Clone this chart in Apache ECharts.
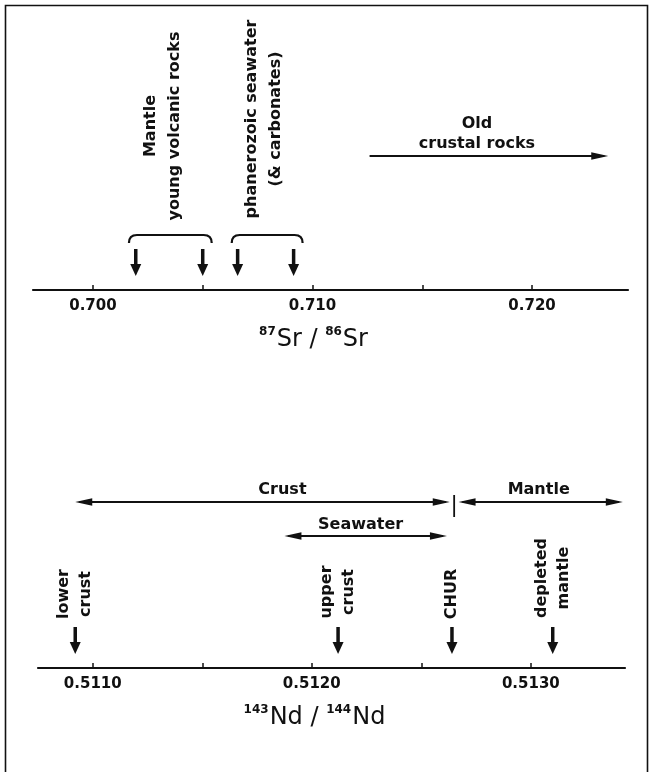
<!DOCTYPE html>
<html>
<head>
<meta charset="utf-8">
<script src="https://cdn.jsdelivr.net/npm/echarts@6/dist/echarts.min.js"></script>
<style>
html,body{margin:0;padding:0;background:#fff;}
#chart{width:651px;height:772px;}
</style>
</head>
<body>
<div id="chart"></div>
<script>
// ---------------- data ----------------
// 87Sr/86Sr panel
const srAxisRange = [0.69727, 0.72437];
const srTicks = [0.700, 0.705, 0.710, 0.715, 0.720];
const srTickLabels = [0.700, 0.710, 0.720];
const srArrowValues = [0.70195, 0.70500, 0.70659, 0.70914];
const srBraceRanges = [[0.70164, 0.70541], [0.70632, 0.70955]];
const srGroupLabels = ['Mantle\nyoung volcanic rocks', 'phanerozoic seawater\n(& carbonates)'];
const srGroupLabelValues = [0.70317, 0.70777];
const srOldCrustRange = [0.71260, 0.72347];
const srOldCrustLabel = 'Old\ncrustal rocks';
const srOldCrustLabelValue = 0.71749;

// 143Nd/144Nd panel
const ndAxisRange = [0.51075, 0.51343];
const ndTicks = [0.5110, 0.5115, 0.5120, 0.5125, 0.5130];
const ndTickLabels = [0.5110, 0.5120, 0.5130];
const ndArrowValues = [0.51092, 0.51212, 0.51264, 0.51310];
const ndArrowLabels = ['lower\ncrust', 'upper\ncrust', 'CHUR', 'depleted\nmantle'];
const ndCrustRange = [0.51092, 0.51263];
const ndMantleRange = [0.51267, 0.51342];
const ndSeawaterRange = [0.511875, 0.512617];
const ndChurValue = 0.51265;
const ndRangeLabels = ['Crust', 'Mantle', 'Seawater'];
const ndRangeLabelValues = [0.511866, 0.513036, 0.512223];

// ---------------- layout (pixel offsets above each axis line) ----------------
const INK = '#111';
const FONT = '"DejaVu Sans", sans-serif';
const L = {
  arrowTop: -41, arrowBottom: -14,
  braceTop: -55, braceEnd: -47,
  srGroupLabelY: [-164, -171],
  oldArrowY: -134, oldLabelY: -156,
  crustArrowY: -166, rangeLabelY: [-178, -178, -143],
  seaArrowY: -132,
  churTick: [-173, -151],
  ndArrowLabelY: [-74, -76, -74, -90]
};

// ---------------- drawing helpers ----------------
function downArrow(x, y0) {
  const headH = 12, headW = 11;
  const yb = y0 + L.arrowBottom;
  return {
    type: 'group', children: [
      {type: 'line', shape: {x1: x, y1: y0 + L.arrowTop, x2: x, y2: yb - headH + 2},
       style: {stroke: INK, lineWidth: 3.5}},
      {type: 'polygon', shape: {points: [[x - headW / 2, yb - headH], [x + headW / 2, yb - headH], [x, yb]]},
       style: {fill: INK}}
    ]
  };
}
function hArrow(x1, x2, y, headL, headR) {
  const hl = 17, hw = 3.8;
  const ch = [{type: 'line', shape: {x1: x1 + (headL ? 4 : 0), y1: y, x2: x2 - (headR ? 4 : 0), y2: y},
               style: {stroke: INK, lineWidth: 2}}];
  if (headL) ch.push({type: 'polygon', shape: {points: [[x1, y], [x1 + hl, y - hw], [x1 + hl, y + hw]]}, style: {fill: INK}});
  if (headR) ch.push({type: 'polygon', shape: {points: [[x2, y], [x2 - hl, y - hw], [x2 - hl, y + hw]]}, style: {fill: INK}});
  return {type: 'group', children: ch};
}
function label(x, y, text, rotated, lineHeight) {
  return {
    type: 'text', x: x, y: y, rotation: rotated ? Math.PI / 2 : 0,
    style: {text: text, x: 0, y: 0, align: 'center', verticalAlign: 'middle',
            fontFamily: FONT, fontWeight: 'bold', fontSize: 16, lineHeight: lineHeight || 22, fill: INK}
  };
}
function customSeries(gridIdx, data, render) {
  return {
    type: 'custom', xAxisIndex: gridIdx, yAxisIndex: gridIdx, clip: false, silent: true,
    encode: {x: 0, y: 1}, data: data, renderItem: render
  };
}
function base(api, v) { return api.coord([v, 0]); }

function makeXAxis(grid, range, ticks, tickLabels, digits, title) {
  return {
    type: 'value', gridIndex: grid, position: 'bottom', min: range[0], max: range[1],
    splitLine: {show: false},
    axisLine: {show: true, onZero: false, lineStyle: {color: INK, width: 2.2}},
    axisTick: {show: true, inside: true, length: 5, customValues: ticks, lineStyle: {color: INK, width: 1.5}},
    axisLabel: {show: true, customValues: tickLabels, margin: 9, color: INK, fontFamily: FONT,
                fontWeight: 'bold', fontSize: 15, formatter: v => Number(v).toFixed(digits)},
    name: title, nameLocation: 'middle', nameGap: 36,
    nameTextStyle: {
      color: INK, fontFamily: FONT, padding: [0, 34, 0, 0],
      rich: {
        s: {fontSize: 12, fontWeight: 'bold', fontFamily: FONT, color: INK, verticalAlign: 'top', padding: [0, 1, 14, 0]},
        m: {fontSize: 24, fontFamily: FONT, color: INK, verticalAlign: 'bottom'}
      }
    }
  };
}

// ---------------- series ----------------
const series = [];
// Sr down arrows
series.push(customSeries(0, srArrowValues.map(v => [v, 0]), (p, api) => {
  const c = base(api, api.value(0)); return downArrow(c[0], c[1]);
}));
// Sr braces
series.push(customSeries(0, srBraceRanges.map(r => [r[0], 0, r[1]]), (p, api) => {
  const a = base(api, api.value(0)), b = base(api, api.value(2));
  const yt = a[1] + L.braceTop, ye = a[1] + L.braceEnd, r = 8;
  return {type: 'path', shape: {pathData:
    `M${a[0]},${ye} Q${a[0]},${yt} ${a[0] + r},${yt} L${b[0] - r},${yt} Q${b[0]},${yt} ${b[0]},${ye}`},
    style: {stroke: INK, lineWidth: 2.2, fill: null}};
}));
// Sr vertical group labels
series.push(customSeries(0, srGroupLabelValues.map(v => [v, 0]), (p, api) => {
  const c = base(api, api.value(0));
  return label(c[0], c[1] + L.srGroupLabelY[p.dataIndex], srGroupLabels[p.dataIndex], true, 24);
}));
// Old crustal rocks arrow + label
series.push(customSeries(0, [[srOldCrustRange[0], 0, srOldCrustRange[1]]], (p, api) => {
  const a = base(api, api.value(0)), b = base(api, api.value(2));
  return hArrow(a[0], b[0], a[1] + L.oldArrowY, false, true);
}));
series.push(customSeries(0, [[srOldCrustLabelValue, 0]], (p, api) => {
  const c = base(api, api.value(0));
  return label(c[0], c[1] + L.oldLabelY, srOldCrustLabel, false, 20);
}));

// Nd down arrows + labels
series.push(customSeries(1, ndArrowValues.map(v => [v, 0]), (p, api) => {
  const c = base(api, api.value(0));
  return {type: 'group', children: [
    downArrow(c[0], c[1]),
    label(c[0], c[1] + L.ndArrowLabelY[p.dataIndex], ndArrowLabels[p.dataIndex], true, 22)
  ]};
}));
// Nd range arrows
const ndRanges = [[ndCrustRange, L.crustArrowY], [ndMantleRange, L.crustArrowY], [ndSeawaterRange, L.seaArrowY]];
series.push(customSeries(1, ndRanges.map(r => [r[0][0], 0, r[0][1]]), (p, api) => {
  const a = base(api, api.value(0)), b = base(api, api.value(2));
  return hArrow(a[0], b[0], a[1] + ndRanges[p.dataIndex][1], true, true);
}));
// CHUR divider tick
series.push(customSeries(1, [[ndChurValue, 0]], (p, api) => {
  const c = base(api, api.value(0));
  return {type: 'line', shape: {x1: c[0], y1: c[1] + L.churTick[0], x2: c[0], y2: c[1] + L.churTick[1]},
          style: {stroke: INK, lineWidth: 1.8}};
}));
// Nd range labels
series.push(customSeries(1, ndRangeLabelValues.map(v => [v, 0]), (p, api) => {
  const c = base(api, api.value(0));
  return label(c[0], c[1] + L.rangeLabelY[p.dataIndex], ndRangeLabels[p.dataIndex], false, 20);
}));

const chart = echarts.init(document.getElementById('chart'), null, {renderer: 'canvas'});
chart.setOption({
  animation: false,
  backgroundColor: '#fff',
  graphic: [{type: 'rect', silent: true, z: 100,
             shape: {x: 5.5, y: 5.5, width: 642, height: 800},
             style: {fill: 'none', stroke: INK, lineWidth: 1.6}}],
  grid: [
    {left: 33, right: 23, top: 10, bottom: 482},
    {left: 38, right: 26, top: 400, bottom: 104}
  ],
  xAxis: [
    makeXAxis(0, srAxisRange, srTicks, srTickLabels, 3, '{s|87}{m|Sr / }{s|86}{m|Sr}'),
    makeXAxis(1, ndAxisRange, ndTicks, ndTickLabels, 4, '{s|143}{m|Nd / }{s|144}{m|Nd}')
  ],
  yAxis: [
    {type: 'value', gridIndex: 0, min: 0, max: 1, show: false},
    {type: 'value', gridIndex: 1, min: 0, max: 1, show: false}
  ],
  series: series
});
</script>
</body>
</html>
